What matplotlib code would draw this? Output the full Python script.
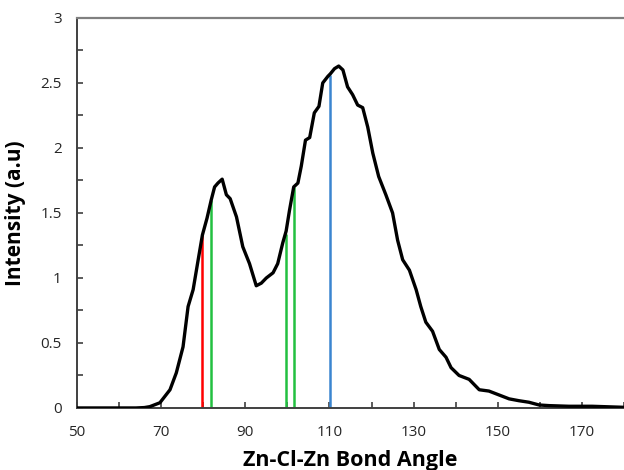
import numpy as np
import matplotlib
matplotlib.use("Agg")
import matplotlib.pyplot as plt
from matplotlib.ticker import FixedLocator, MultipleLocator, FuncFormatter

# bond angle distribution
angle = [50, 60, 64, 66, 67.3, 69.7, 72.1, 73.6, 75.2, 76.4, 77.6, 78.8, 79.8,
         80.9, 81.9, 82.7, 83.5, 84.5, 85.5, 86.4, 87.9, 89.4, 91.0, 92.6,
         93.8, 95.0, 96.6, 97.7, 98.9, 99.7, 100.5, 101.5, 102.5, 103.3,
         104.3, 105.3, 106.4, 107.5, 108.4, 109.6, 110.2, 111.2, 112.2,
         113.2, 114.3, 115.5, 116.7, 117.9, 119.1, 120.3, 121.7, 123.4,
         125.0, 126.2, 127.4, 129.0, 130.6, 131.7, 132.9, 134.5, 136.1,
         137.7, 138.9, 140.8, 143.2, 145.6, 147.9, 150.3, 152.7, 155.0,
         157.4, 159.8, 162.2, 166.9, 172.4, 180]
intensity = [0, 0, 0, 0.003, 0.01, 0.04, 0.14, 0.27, 0.47, 0.78, 0.91, 1.14, 1.33,
             1.46, 1.60, 1.70, 1.73, 1.76, 1.64, 1.61, 1.47, 1.24, 1.11, 0.94,
             0.96, 1.00, 1.04, 1.11, 1.27, 1.36, 1.52, 1.70, 1.73, 1.86,
             2.06, 2.08, 2.27, 2.32, 2.50, 2.55, 2.57, 2.61, 2.63,
             2.60, 2.47, 2.41, 2.33, 2.31, 2.16, 1.96, 1.78, 1.64,
             1.50, 1.29, 1.14, 1.06, 0.91, 0.78, 0.66, 0.59, 0.45,
             0.39, 0.31, 0.25, 0.22, 0.14, 0.13, 0.10, 0.07, 0.056,
             0.044, 0.023, 0.018, 0.013, 0.013, 0.005]

# marker lines
line_x = [79.7, 81.8, 99.6, 101.5, 110.2]
line_top = [1.33, 1.60, 1.34, 1.70, 2.56]
line_colors = ["#ff0000", "#22c040", "#22c040", "#22c040", "#3a85d0"]

x_labels = [50, 70, 90, 110, 130, 150, 170]

plt.rcParams["font.family"] = ["Open Sans", "DejaVu Sans"]

fig = plt.figure(figsize=(6.24, 4.70), dpi=100)
ax = fig.add_axes([0.1234, 0.132, 0.8766, 0.8298])

for x, top, c in zip(line_x, line_top, line_colors):
    ax.vlines(x, 0, top, color=c, lw=1.8, zorder=2)
ax.plot(angle, intensity, color="black", lw=2.4, zorder=3,
        solid_joinstyle="round", solid_capstyle="round")

ax.set_xlim(50, 180)
ax.set_ylim(0, 3)

ax.xaxis.set_major_locator(FixedLocator(x_labels))
ax.xaxis.set_minor_locator(MultipleLocator(10))
ax.yaxis.set_major_locator(MultipleLocator(0.5))
ax.yaxis.set_minor_locator(MultipleLocator(0.25))
ax.yaxis.set_major_formatter(FuncFormatter(lambda v, p: f"{v:g}"))

ax.tick_params(axis="both", which="both", direction="in", length=4,
               width=1.2, color="#404040")
ax.tick_params(axis="x", which="major", pad=12, labelsize=11, labelcolor="#262626")
ax.tick_params(axis="y", which="major", pad=11, labelsize=11, labelcolor="#262626")

ax.spines["right"].set_visible(False)
ax.spines["top"].set_color("#808080")
ax.spines["top"].set_linewidth(1.6)
for s in ["left", "bottom"]:
    ax.spines[s].set_color("#404040")
    ax.spines[s].set_linewidth(1.4)

ax.set_xlabel("Zn-Cl-Zn Bond Angle", fontsize=15.5, fontweight="bold", labelpad=7.5)
ax.set_ylabel("Intensity (a.u)", fontsize=15, fontweight="bold", labelpad=10)

fig.savefig("out.png", dpi=100)
